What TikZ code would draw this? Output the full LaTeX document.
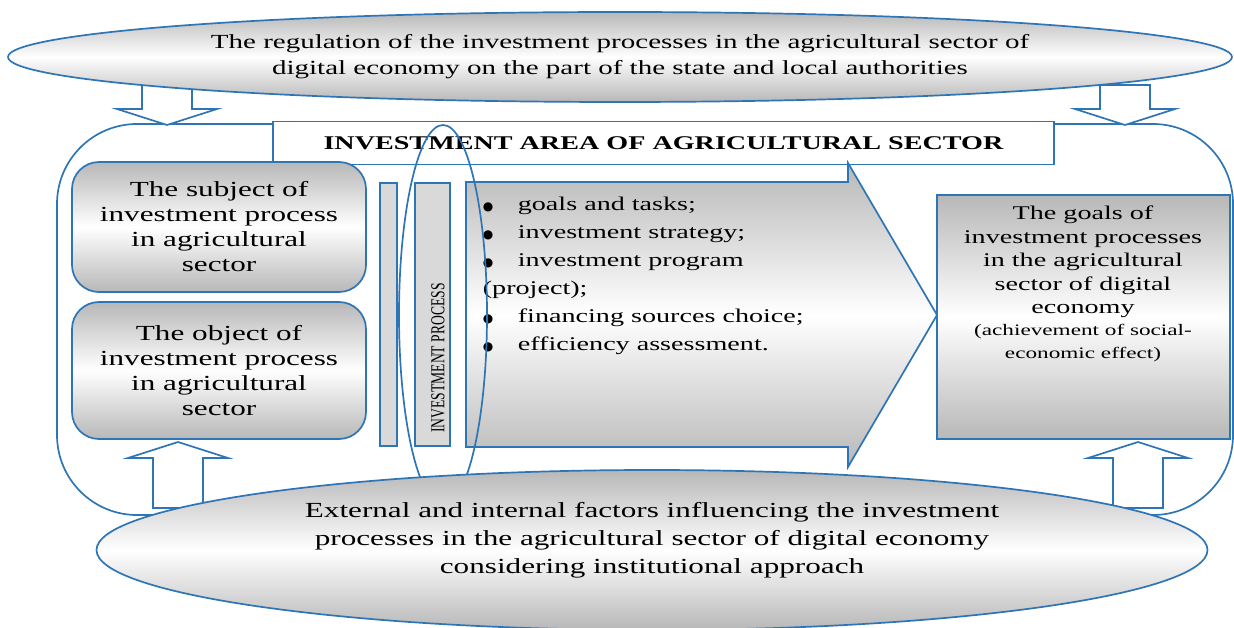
\documentclass[tikz,border=0pt]{standalone}
\usepackage{fontspec}
\setmainfont{Liberation Serif}[FakeStretch=1.45]
\newfontfamily\dotfont{DejaVu Sans}
\usetikzlibrary{shapes.geometric}
\definecolor{lineblue}{RGB}{46,117,182}
\newcommand\listdot{\makebox[35pt][l]{\fontsize{12}{12}\dotfont ●}}

\begin{document}
\begin{tikzpicture}[
		x=1pt, y=-1pt,
		line width=1.7pt,
		every node/.style={align=center, inner sep=0pt},
		frame/.style={draw=lineblue},
		greyfill/.style={top color=black!28, bottom color=black!28, middle color=white},
		oval/.style={ellipse, frame, greyfill},
		sidebox/.style={frame, greyfill, rounded corners=27pt, minimum width=294pt},
		bar/.style={frame, fill=black!15},
		bigtext/.style={font=\fontsize{20}{26}\selectfont},
		fatarrow/.pic={\draw[frame, fill=white] (-25,-#1) -- (-25,-16) -- (-50,-16) -- (0,0) -- (50,-16) -- (25,-16) -- (25,-#1) -- cycle;}
		]
		\useasboundingbox (0,0) rectangle (1234,628);
		\draw[frame, rounded corners=80pt] (57,124) rectangle (1233,515);

		% influence of the state
		\pic at (167,125) {fatarrow=40};
		\pic at (1125,125) {fatarrow=40};
		\node[oval, bigtext, minimum width=1224pt, minimum height=90pt] (regulation) at (620,57)
			{The regulation of the investment processes in the agricultural sector of\\
			digital economy on the part of the state and local authorities};

		\node[frame, fill=white, minimum width=781pt, minimum height=43pt, font=\fontsize{19.4}{19.4}\selectfont\bfseries] (area) at (663.5,143)
			{INVESTMENT AREA OF AGRICULTURAL SECTOR};

		\node[sidebox, minimum height=130pt, font=\fontsize{21.5}{25}\selectfont] (subject) at (219,227)
			{The subject of\\ investment process\\ in agricultural\\ sector};
		\node[sidebox, minimum height=137pt, font=\fontsize{21.5}{25}\selectfont] (object) at (219,370.5)
			{The object of\\ investment process\\ in agricultural\\ sector};

		\draw[bar] (380,183) rectangle (397,446);
		\draw[bar] (415,183) rectangle (450,446);
		\node[rotate=90, font=\fontsize{13.6}{13.6}\selectfont] (proclabel) at (438,358)
			{\scalebox{0.69}[1.45]{INVESTMENT PROCESS}};

		\draw[frame, greyfill] (466,182) -- (848,182) -- (848,163) -- (937,315) -- (848,467) -- (848,447) -- (466,447) -- cycle;
		\node[anchor=north west, align=left, font=\fontsize{19.4}{28}\selectfont] (steps) at (482,196)
			{\listdot goals and tasks;\\
			\listdot investment strategy;\\
			\listdot investment program\\
			(project);\\
			\listdot financing sources choice;\\
			\listdot efficiency assessment.};

		\draw[frame, greyfill] (937,195) rectangle (1230,439);
		\node[anchor=north, font=\fontsize{19.4}{23.5}\selectfont] (goals) at (1083,205)
			{The goals of\\ investment processes\\ in the agricultural\\ sector of digital\\ economy\\[-2pt]
			{\fontsize{16}{20}\selectfont (achievement of social-}\\
			{\fontsize{16}{20}\selectfont economic effect)}};

		\node[ellipse, frame, minimum width=88pt, minimum height=380pt] (process) at (443,315) {};

		% factors from below
		\pic[yscale=-1] at (178,442) {fatarrow=66};
		\pic[yscale=-1] at (1138,442) {fatarrow=66};
		\node[oval, minimum width=1111pt, minimum height=160pt] (factors) at (652,550) {};
		\node[font=\fontsize{21.5}{28}\selectfont] (factorstext) at (652,540)
			{External and internal factors influencing the investment\\
			processes in the agricultural sector of digital economy\\
			considering institutional approach};
	\end{tikzpicture}
\end{document}
